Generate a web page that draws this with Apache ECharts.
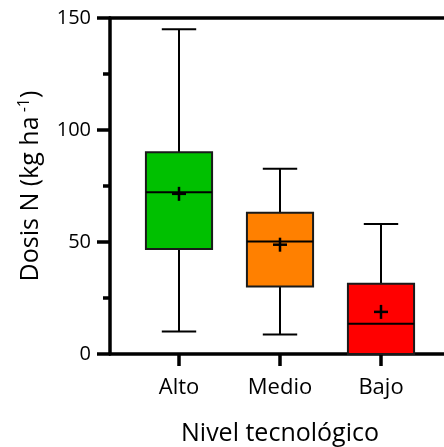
<!DOCTYPE html>
<html><head><meta charset="utf-8">
<script src="https://cdn.jsdelivr.net/npm/echarts@6/dist/echarts.min.js"></script>
<style>html,body{margin:0;padding:0;background:#fff}#c{width:444px;height:447px}</style>
</head><body><div id="c"></div>
<script>
const categories = ['Alto', 'Medio', 'Bajo'];
const minValues = [10, 8.7, 0];
const q1Values = [46.9, 30.1, 0];
const medianValues = [72.2, 50.2, 13.5];
const q3Values = [90.1, 63.1, 31.4];
const maxValues = [145, 82.7, 58];
const meanValues = [71.5, 48.8, 18.8];
const boxColors = ['#00C000', '#FF8000', '#FF0000'];
const yTicks = [0, 50, 100, 150];

const FONT = 'Open Sans';
const data = categories.map((c, i) => [i, minValues[i], q1Values[i], medianValues[i], q3Values[i], maxValues[i], meanValues[i]]);

const chart = echarts.init(document.getElementById('c'), null, {renderer: 'canvas'});
const axisLW = 3.5;
chart.setOption({
  animation: false,
  grid: [
    {left: 110, right: 0, top: 18, bottom: 93, containLabel: false, outerBoundsMode: 'none'},
    {left: 128.5, right: 12.5, top: 18, bottom: 93, containLabel: false, outerBoundsMode: 'none'}
  ],
  xAxis: [
    {gridIndex: 0, type: 'value', min: 0, max: 1, position: 'bottom',
     axisLine: {show: true, onZero: false, lineStyle: {color: '#000', width: axisLW}},
     axisTick: {show: false}, axisLabel: {show: false}, splitLine: {show: false}},
    {gridIndex: 0, type: 'value', min: 0, max: 1, position: 'top',
     axisLine: {show: true, onZero: false, lineStyle: {color: '#000', width: axisLW}},
     axisTick: {show: false}, axisLabel: {show: false}, splitLine: {show: false}},
    {gridIndex: 1, type: 'category', data: categories, position: 'bottom',
     axisLine: {show: false, onZero: false},
     axisTick: {show: true, alignWithLabel: true, length: 12, lineStyle: {color: '#000', width: axisLW}},
     axisLabel: {color: '#000', fontSize: 22, fontFamily: FONT, margin: 23},
     splitLine: {show: false},
     name: 'Nivel tecnológico', nameLocation: 'middle', nameGap: 67,
     nameTextStyle: {color: '#000', fontSize: 25, fontFamily: FONT}}
  ],
  yAxis: [
    {gridIndex: 0, type: 'value', min: 0, max: 150, interval: 50,
     axisLine: {show: true, onZero: false, lineStyle: {color: '#000', width: axisLW}},
     axisTick: {show: true, length: 13, lineStyle: {color: '#000', width: axisLW}},
     minorTick: {show: true, splitNumber: 2, length: 7, lineStyle: {color: '#000', width: axisLW}},
     axisLabel: {color: '#000', fontSize: 20, fontFamily: FONT, margin: 19,
       formatter: v => yTicks.includes(v) ? String(v) : ''},
     splitLine: {show: false},
     name: 'Dosis N (kg ha{sup| -1})', nameLocation: 'middle', nameGap: 64, nameRotate: 90,
     nameTextStyle: {color: '#000', fontSize: 25, fontFamily: FONT,
       rich: {sup: {fontSize: 16, fontFamily: FONT, color: '#000', verticalAlign: 'top', padding: [0, 0, 14, 0]}}}},
    {gridIndex: 1, type: 'value', min: 0, max: 150, show: false}
  ],
  series: [{
    type: 'custom',
    xAxisIndex: 2, yAxisIndex: 1,
    data: data,
    clip: false,
    renderItem: function (params, api) {
      const x = api.value(0);
      const vals = [1,2,3,4,5,6].map(k => api.value(k));
      const [mn, q1, med, q3, mx, mean] = vals;
      const bw = api.size([1, 0])[0];
      const boxW = bw * 0.655;
      const capW = boxW * 0.52;
      const c = (v) => api.coord([x, v]);
      const pMin = c(mn), pQ1 = c(q1), pMed = c(med), pQ3 = c(q3), pMax = c(mx), pMean = c(mean);
      const cx = pMed[0];
      const lineStyle = {stroke: '#000', lineWidth: 2};
      const children = [];
      children.push({type: 'line', shape: {x1: cx, y1: pQ3[1], x2: cx, y2: pMax[1]}, style: lineStyle});
      children.push({type: 'line', shape: {x1: cx - capW/2, y1: pMax[1], x2: cx + capW/2, y2: pMax[1]}, style: lineStyle});
      if (q1 > mn) {
        children.push({type: 'line', shape: {x1: cx, y1: pMin[1], x2: cx, y2: pQ1[1]}, style: lineStyle});
        children.push({type: 'line', shape: {x1: cx - capW/2, y1: pMin[1], x2: cx + capW/2, y2: pMin[1]}, style: lineStyle});
      }
      children.push({type: 'rect', shape: {x: cx - boxW/2, y: pQ3[1], width: boxW, height: pQ1[1] - pQ3[1]},
        style: {fill: boxColors[params.dataIndex], stroke: '#1a1a1a', lineWidth: 2}});
      children.push({type: 'line', shape: {x1: cx - boxW/2, y1: pMed[1], x2: cx + boxW/2, y2: pMed[1]}, style: lineStyle});
      const h = 7;
      children.push({type: 'line', shape: {x1: cx - h, y1: pMean[1], x2: cx + h, y2: pMean[1]}, style: {stroke: '#000', lineWidth: 2.5}});
      children.push({type: 'line', shape: {x1: cx, y1: pMean[1] - h, x2: cx, y2: pMean[1] + h}, style: {stroke: '#000', lineWidth: 2.5}});
      return {type: 'group', children: children};
    }
  }]
});
</script>
</body></html>
